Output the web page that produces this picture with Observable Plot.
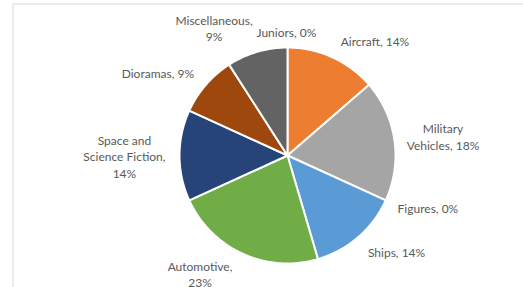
<!DOCTYPE html>
<html>
<head>
<meta charset="utf-8">
<script src="https://cdn.jsdelivr.net/npm/d3@7"></script>
<script src="https://cdn.jsdelivr.net/npm/@observablehq/plot@0.6"></script>
<style>
  html, body { margin: 0; padding: 0; background: #fff; }
</style>
</head>
<body>
<div id="chart"></div>
<script>
// Data (clockwise from 12 o'clock)
const categories = ["Juniors", "Aircraft", "Military Vehicles", "Figures", "Ships", "Automotive", "Space and Science Fiction", "Dioramas", "Miscellaneous"];
const counts = [0, 3, 4, 0, 3, 5, 3, 2, 2];
const percentLabels = ["0%", "14%", "18%", "0%", "14%", "23%", "14%", "9%", "9%"];
const labelTexts = ["Juniors, 0%", "Aircraft, 14%", "Military\nVehicles, 18%", "Figures, 0%", "Ships, 14%", "Automotive,\n23%", "Space and\nScience Fiction,\n14%", "Dioramas, 9%", "Miscellaneous,\n9%"];
const colors = ["#4472C4", "#ED7D31", "#A5A5A5", "#FFC000", "#5B9BD5", "#70AD47", "#264478", "#9E480E", "#636363"];

// Label layout (in units of pie radius, relative to the centre)
const labelLayout = [
  [-0.01, 1.15], [0.81, 1.06], [1.44, 0.18], [1.30, -0.48], [1.01, -0.895],
  [-0.81, -1.095], [-1.51, -0.006], [-1.20, 0.77], [-0.68, 1.182]
];

const arcs = d3.pie().sort(null).value(d => d)(counts);
const slices = [];
arcs.forEach((a, i) => {
  if (a.endAngle - a.startAngle <= 0) return;
  slices.push({cat: categories[i], x: 0, y: 0});
  const steps = Math.max(2, Math.ceil((a.endAngle - a.startAngle) / (Math.PI / 180)));
  for (let k = 0; k <= steps; k++) {
    const t = a.startAngle + (a.endAngle - a.startAngle) * k / steps;
    slices.push({cat: categories[i], x: Math.sin(t), y: Math.cos(t)});
  }
});
const labels = categories.map((c, i) => ({cat: c, text: labelTexts[i], x: labelLayout[i][0], y: labelLayout[i][1]}));

const cx = 287, cy = 155, R = 108;
const chart = Plot.plot({
  width: 523,
  height: 287,
  marginLeft: 12.5,
  marginTop: 3.5,
  marginRight: -2,
  marginBottom: -2,
  x: {domain: [-1, 1], range: [cx - R, cx + R], axis: null},
  y: {domain: [-1, 1], range: [cy + R, cy - R], axis: null},
  color: {domain: categories, range: colors},
  style: {fontFamily: "Lato, 'Open Sans', sans-serif", background: "#fff"},
  marks: [
    Plot.frame({stroke: "#d9d9d9"}),
    Plot.line(slices, {x: "x", y: "y", z: "cat", fill: "cat", stroke: "#fff", strokeWidth: 2, strokeLinejoin: "round", curve: "linear-closed"}),
    Plot.text(labels, {x: "x", y: "y", text: "text", fill: "#595959", fontSize: 12, lineHeight: 1.38, textAnchor: "middle"})
  ]
});
document.getElementById("chart").appendChild(chart);
</script>
</body>
</html>
